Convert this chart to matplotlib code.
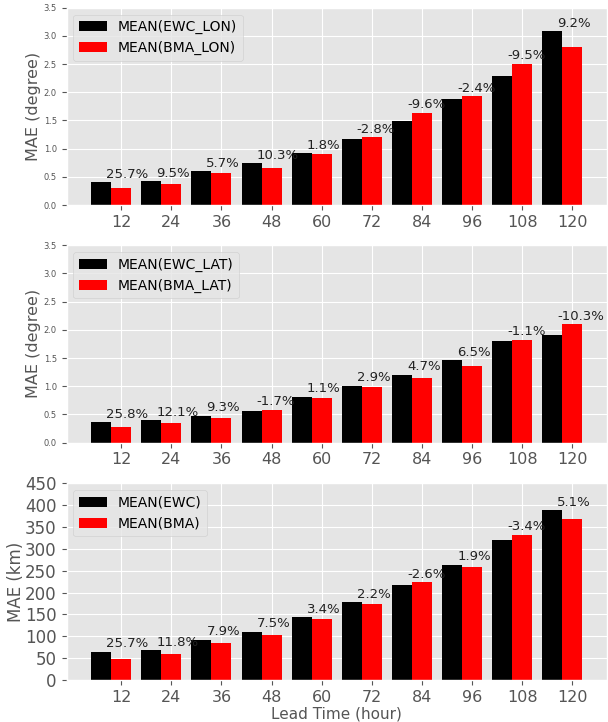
import matplotlib
matplotlib.use("Agg")
import matplotlib.pyplot as plt
import numpy as np

plt.style.use("ggplot")

lead = ["12", "24", "36", "48", "60", "72", "84", "96", "108", "120"]

ewc_lon = [0.405, 0.42, 0.60, 0.74, 0.92, 1.17, 1.49, 1.88, 2.29, 3.08]
bma_lon = [0.301, 0.38, 0.566, 0.664, 0.903, 1.203, 1.633, 1.925, 2.508, 2.797]
pct_lon = ["25.7%", "9.5%", "5.7%", "10.3%", "1.8%", "-2.8%", "-9.6%", "-2.4%", "-9.5%", "9.2%"]

ewc_lat = [0.366, 0.40, 0.48, 0.57, 0.81, 1.01, 1.20, 1.46, 1.80, 1.90]
bma_lat = [0.272, 0.352, 0.435, 0.58, 0.80, 0.98, 1.14, 1.365, 1.82, 2.096]
pct_lat = ["25.8%", "12.1%", "9.3%", "-1.7%", "1.1%", "2.9%", "4.7%", "6.5%", "-1.1%", "-10.3%"]

ewc_km = [64, 68.5, 91.5, 110.5, 144, 178, 218, 264, 321, 388]
bma_km = [47.6, 60.4, 84.3, 102.2, 139.1, 174.1, 223.7, 259, 331.9, 368.2]
pct_km = ["25.7%", "11.8%", "7.9%", "7.5%", "3.4%", "2.2%", "-2.6%", "1.9%", "-3.4%", "5.1%"]

fig = plt.figure(figsize=(6.08, 7.22), dpi=100)

panels = [
    (ewc_lon, bma_lon, pct_lon, "MEAN(EWC_LON)", "MEAN(BMA_LON)", "MAE (degree)", 3.5, 0.5, [0.1094, 0.716, 0.889, 0.2735]),
    (ewc_lat, bma_lat, pct_lat, "MEAN(EWC_LAT)", "MEAN(BMA_LAT)", "MAE (degree)", 3.5, 0.5, [0.1094, 0.3868, 0.889, 0.2738]),
    (ewc_km, bma_km, pct_km, "MEAN(EWC)", "MEAN(BMA)", "MAE (km)", 450, 50, [0.1094, 0.0582, 0.889, 0.2724]),
]

x = np.arange(len(lead))
w = 0.4
for k, (a, b, pct, la, lb, ylab, ymax, step, pos) in enumerate(panels):
    ax = fig.add_axes(pos)
    ax.bar(x - w, a, width=w, color="k", label=la)
    ax.bar(x, b, width=w, color="r", label=lb)
    off = 0.023 * ymax
    for i in range(len(x)):
        ax.text(x[i] - 0.3, max(a[i], b[i]) + off, pct[i], ha="left", va="baseline",
                fontsize=9.5, color="#222222")
    ax.set_ylim(0, ymax)
    ax.set_yticks(np.arange(0, ymax + step / 2, step))
    ax.set_xticks(x)
    ax.set_xticklabels(lead, fontsize=11.5)
    if k < 2:
        ax.tick_params(axis="y", labelsize=6)
        ax.set_ylabel(ylab, fontsize=11.5, labelpad=1.5)
    else:
        ax.tick_params(axis="y", labelsize=12)
        ax.set_ylabel(ylab, fontsize=12, labelpad=0)
        ax.set_xlabel("Lead Time (hour)", fontsize=11, labelpad=1)
    ax.legend(loc="upper left", fontsize=10)

plt.savefig("out.png", dpi=100)
